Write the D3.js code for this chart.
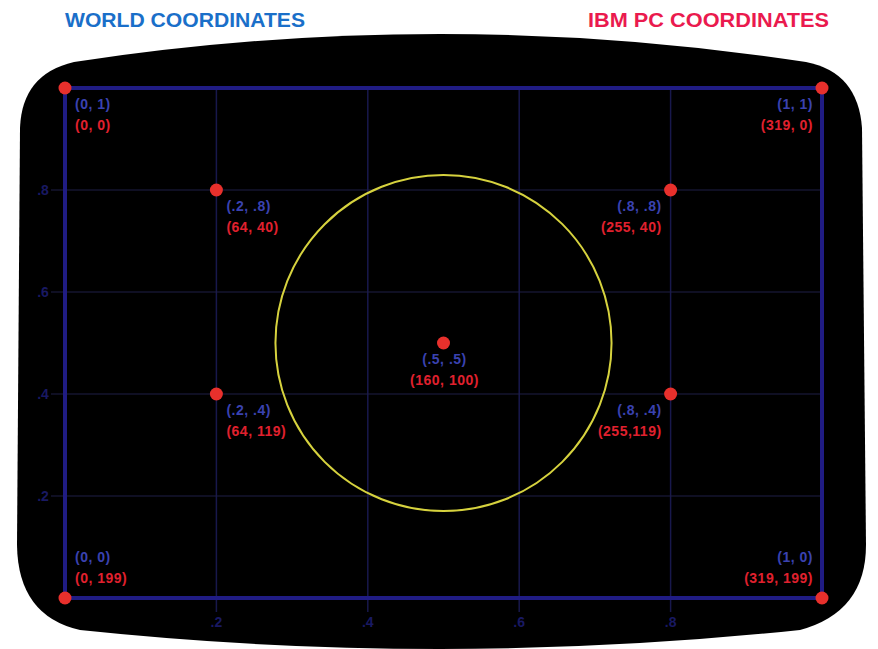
<!DOCTYPE html>
<html><head><meta charset="utf-8">
<script src="https://cdn.jsdelivr.net/npm/d3@7"></script>
<style>body{margin:0;background:#fff}svg{display:block}</style>
</head><body>
<svg id="c" width="878" height="649"></svg>
<script>
// ---- data ----
const worldX = [0, 1, 0.2, 0.8, 0.5, 0.2, 0.8, 0, 1];
const worldY = [1, 1, 0.8, 0.8, 0.5, 0.4, 0.4, 0, 0];
const pcLabels = ["(0, 0)", "(319, 0)", "(64, 40)", "(255, 40)", "(160, 100)", "(64, 119)", "(255,119)", "(0, 199)", "(319, 199)"];
const gridTicks = [0.2, 0.4, 0.6, 0.8];
const tickLabels = [".2", ".4", ".6", ".8"];
const circleCenter = [0.5, 0.5];
const circleRadius = 0.222; // in world-x units
const titles = ["WORLD COORDINATES", "IBM PC COORDINATES"];

const svg = d3.select("#c");
const x = d3.scaleLinear([0, 1], [65, 822]);
const y = d3.scaleLinear([0, 1], [598, 88]);

// screen bezel
svg.append("path")
  .attr("d", "M20,128 Q22,74 74,62 Q440,6 806,62 Q858,72 862,128 L866,545 Q866,612 800,630 Q440,668 80,630 Q18,616 17,545 Z")
  .attr("fill", "#000");

// titles
svg.append("text").text(titles[0]).attr("x", 65).attr("y", 27)
  .attr("fill", "#1a6fc9").attr("font-family", "Liberation Sans, Arial, sans-serif")
  .attr("font-weight", "bold").attr("font-size", 20).attr("textLength", 240).attr("lengthAdjust", "spacingAndGlyphs");
svg.append("text").text(titles[1]).attr("x", 588).attr("y", 27)
  .attr("fill", "#ea1a4e").attr("font-family", "Liberation Sans, Arial, sans-serif")
  .attr("font-weight", "bold").attr("font-size", 20).attr("textLength", 241).attr("lengthAdjust", "spacingAndGlyphs");

// grid
const g = svg.append("g");
g.selectAll("line.v").data(gridTicks).join("line")
  .attr("x1", d => x(d)).attr("x2", d => x(d)).attr("y1", y(1)).attr("y2", y(0) + 14)
  .attr("stroke", "#18184c").attr("stroke-width", 1.5);
g.selectAll("line.h").data(gridTicks).join("line")
  .attr("y1", d => y(d)).attr("y2", d => y(d)).attr("x1", x(0) - 14).attr("x2", x(1))
  .attr("stroke", "#1e1e46").attr("stroke-width", 1.2);

// tick labels
g.selectAll("text.yl").data(gridTicks).join("text")
  .attr("x", x(0) - 22).attr("y", d => y(d)).attr("dy", "0.35em")
  .attr("text-anchor", "middle").attr("fill", "#191962")
  .attr("font-family", "Liberation Sans, Arial, sans-serif").attr("font-weight", "bold").attr("font-size", 14)
  .text((d, i) => tickLabels[i]);
g.selectAll("text.xl").data(gridTicks).join("text")
  .attr("x", d => x(d)).attr("y", y(0) + 24).attr("dy", "0.35em")
  .attr("text-anchor", "middle").attr("fill", "#191962")
  .attr("font-family", "Liberation Sans, Arial, sans-serif").attr("font-weight", "bold").attr("font-size", 14)
  .text((d, i) => tickLabels[i]);

// frame
svg.append("rect").attr("x", x(0)).attr("y", y(1)).attr("width", x(1) - x(0)).attr("height", y(0) - y(1))
  .attr("fill", "none").attr("stroke", "#201c84").attr("stroke-width", 4);

// circle
svg.append("circle").attr("cx", x(circleCenter[0])).attr("cy", y(circleCenter[1]))
  .attr("r", x(circleRadius) - x(0))
  .attr("fill", "none").attr("stroke", "#d6d23e").attr("stroke-width", 2);

// points
const pts = worldX.map((wx, i) => ({ wx, wy: worldY[i], pc: pcLabels[i] }));
const fmt = v => (v === 0 || v === 1) ? String(v) : String(v).replace(/^0/, "");
svg.selectAll("circle.pt").data(pts).join("circle")
  .attr("cx", d => x(d.wx)).attr("cy", d => y(d.wy)).attr("r", 6.5)
  .attr("fill", "#e8302c");

const anchor = d => d.wx >= 0.8 ? "end" : d.wx === 0.5 ? "middle" : "start";
const dx = d => d.wx >= 0.8 ? -9 : d.wx === 0.5 ? 1 : 10;
const lab = svg.append("g").attr("font-family", "Liberation Sans, Arial, sans-serif")
  .attr("font-weight", "bold").attr("font-size", 14);
lab.selectAll("text.w").data(pts).join("text")
  .attr("x", d => x(d.wx) + dx(d))
  .attr("y", d => y(d.wy) + (d.wy === 0 ? -41 : 16)).attr("dy", "0.35em")
  .attr("text-anchor", anchor).attr("fill", "#3a42b0").attr("letter-spacing", 0.5)
  .text(d => `(${fmt(d.wx)}, ${fmt(d.wy)})`);
lab.selectAll("text.p").data(pts).join("text")
  .attr("x", d => x(d.wx) + dx(d))
  .attr("y", d => y(d.wy) + (d.wy === 0 ? -20 : 37)).attr("dy", "0.35em")
  .attr("text-anchor", anchor).attr("fill", "#e0202e").attr("letter-spacing", 0.5)
  .text(d => d.pc);
</script>
</body></html>
